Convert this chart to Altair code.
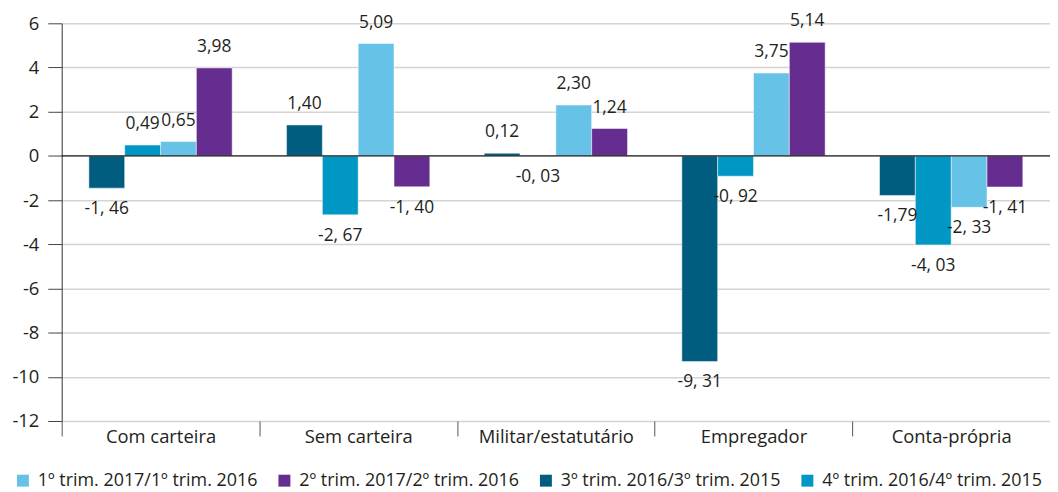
import altair as alt
import pandas as pd

categories = ["Com carteira", "Sem carteira", "Militar/estatutário", "Empregador", "Conta-própria"]
series_names = [
    "1º trim. 2017/1º trim. 2016",
    "2º trim. 2017/2º trim. 2016",
    "3º trim. 2016/3º trim. 2015",
    "4º trim. 2016/4º trim. 2015",
]
values_1t2017 = [0.65, 5.09, 2.30, 3.75, -2.33]
values_2t2017 = [3.98, -1.40, 1.24, 5.14, -1.41]
values_3t2016 = [-1.46, 1.40, 0.12, -9.31, -1.79]
values_4t2016 = [0.49, -2.67, -0.03, -0.92, -4.03]
labels_1t2017 = ["0,65", "5,09", "2,30", "3,75", "-2, 33"]
labels_2t2017 = ["3,98", "-1, 40", "1,24", "5,14", "-1, 41"]
labels_3t2016 = ["-1, 46", "1,40", "0,12", "-9, 31", "-1,79"]
labels_4t2016 = ["0,49", "-2, 67", "-0, 03", "-0, 92", "-4, 03"]
y_ticks = [-12, -10, -8, -6, -4, -2, 0, 2, 4, 6]

colors = ["#66c2e6", "#662d91", "#005d80", "#0097c4"]
bar_order = [series_names[2], series_names[3], series_names[0], series_names[1]]

rows = []
for s, vals, labs in zip(series_names,
                         [values_1t2017, values_2t2017, values_3t2016, values_4t2016],
                         [labels_1t2017, labels_2t2017, labels_3t2016, labels_4t2016]):
    for c, v, l in zip(categories, vals, labs):
        rows.append({"cat": c, "series": s, "value": v, "label": l})
df = pd.DataFrame(rows)

FONT = "Open Sans"
TXT = "#231f20"
FS = 18.5
FS_LBL = 17.5
FS_LEG = 18

W = 994
step = W / 5

x_enc = alt.X("cat:N", sort=categories, title=None,
              scale=alt.Scale(paddingInner=0.275, paddingOuter=0.1375),
              axis=alt.Axis(domain=False, grid=False, ticks=True, tickSize=15,
                            tickColor="#555555", tickWidth=1,
                            tickOffset=-step / 2, labelOffset=step / 2,
                            labelPadding=-8, labelFontSize=FS, labelFont=FONT,
                            labelColor=TXT, labelAngle=0))
xo_enc = alt.XOffset("series:N", sort=bar_order, scale=alt.Scale(paddingInner=0, paddingOuter=0))
y_enc = alt.Y("value:Q", title=None,
              scale=alt.Scale(domain=[-12, 6], nice=False, zero=False),
              axis=alt.Axis(values=y_ticks, grid=True, gridColor="#d4d4d4", gridWidth=1.5,
                            domain=True, domainColor="#333333", domainWidth=1,
                            tickSize=14, tickColor="#444444", tickWidth=1,
                            labelPadding=9, labelFontSize=FS, labelFont=FONT,
                            labelColor=TXT, labelExpr="datum.value + ''"))

base = alt.Chart(df)

bars = base.mark_bar(stroke="white", strokeWidth=0.5).encode(
    x=x_enc, xOffset=xo_enc, y=y_enc,
    color=alt.Color("series:N", sort=series_names,
                    scale=alt.Scale(domain=series_names, range=colors),
                    legend=alt.Legend(title=None, orient="none", direction="horizontal",
                                      columns=4, legendX=-48, legendY=451,
                                      symbolType="square", symbolSize=144,
                                      symbolStrokeWidth=0, labelFontSize=FS_LEG,
                                      labelFont=FONT, labelColor=TXT, labelLimit=400,
                                      labelOffset=6, columnPadding=17)),
)

zero = alt.Chart(pd.DataFrame({"z": [0]})).mark_rule(color="#222222", strokeWidth=1.5).encode(
    y=alt.Y("z:Q", scale=alt.Scale(domain=[-12, 6], nice=False, zero=False))
)

text_pos = base.transform_filter("datum.value >= 0").mark_text(
    dy=-21, baseline="middle", fontSize=FS_LBL, font=FONT, color=TXT
).encode(x=x_enc, xOffset=xo_enc, y=y_enc, text="label:N")

text_neg = base.transform_filter("datum.value < 0").mark_text(
    dy=21, baseline="middle", fontSize=FS_LBL, font=FONT, color=TXT
).encode(x=x_enc, xOffset=xo_enc, y=y_enc, text="label:N")

chart = alt.layer(bars, zero, text_pos, text_neg).properties(
    width=W, height=400,
    autosize=alt.AutoSizeParams(type="none"),
    padding={"left": 54, "top": 14, "right": 0, "bottom": 70},
).configure_view(stroke=None).configure_scale(bandPaddingInner=0)

chart.save("out.html", embed_options={"renderer": "svg", "actions": False})
